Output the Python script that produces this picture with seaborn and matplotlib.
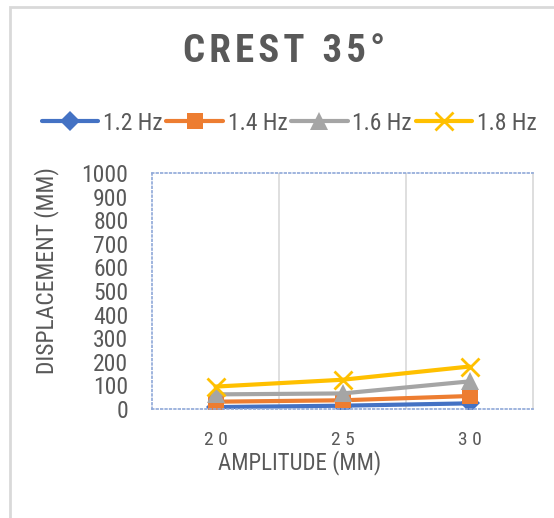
import numpy as np
import pandas as pd
import seaborn as sns
import matplotlib.pyplot as plt
from matplotlib.patches import Rectangle

# values
amplitudes = ["20", "25", "30"]
amp_ticklabels = ["2 0", "2 5", "3 0"]
freqs = ["1.2 Hz", "1.4 Hz", "1.6 Hz", "1.8 Hz"]
disp_12 = [8, 14, 24]
disp_14 = [31, 37, 55]
disp_16 = [62, 66, 117]
disp_18 = [95, 124, 180]

colors = ["#4472C4", "#ED7D31", "#A5A5A5", "#FFC000"]
markers = ["D", "s", "^", "x"]
msizes = [10, 12, 13, 13]
txt = "#595959"

series = [disp_12, disp_14, disp_16, disp_18]

sns.set_theme(style="white")
plt.rcParams["font.family"] = ["Roboto Condensed", "Liberation Sans Narrow",
                               "Roboto", "DejaVu Sans"]

fig = plt.figure(figsize=(5.54, 5.18), dpi=100)
ax = fig.add_axes([0.2744, 0.2104, 0.6877, 0.4556])

for name, vals, c, m, ms in zip(freqs, series, colors, markers, msizes):
  d = pd.DataFrame({"amplitude": amplitudes, "disp": vals})
  sns.lineplot(
    data       = d,
    x          = "amplitude",
    y          = "disp",
    color      = c,
    marker     = m,
    linewidth  = 3,
    markersize = ms,
    markeredgewidth = 2 if m == "x" else 0,
    markeredgecolor = c,
    label      = name,
    ax         = ax,
  )

ax.set_xlim(-0.5, 2.5)
ax.set_ylim(0, 1000)
ax.set_yticks(np.arange(0, 1001, 100))
ax.set_xticks(range(3))
ax.set_xticklabels(amp_ticklabels)
ax.tick_params(axis="both", colors=txt, length=0)
ax.tick_params(axis="y", labelsize=17, pad=17)
ax.tick_params(axis="x", labelsize=14, pad=16)
for xg in [0.5, 1.5]:
  ax.axvline(xg, color="#d9d9d9", lw=1.2, zorder=0)
for s in ["top", "left", "bottom"]:
  ax.spines[s].set_color("#8fa8d8")
  ax.spines[s].set_linestyle(":")
  ax.spines[s].set_linewidth(1.2)
ax.spines["right"].set_color("#d9d9d9")
ax.set_xlabel("")
ax.set_ylabel("")

handles, labels = ax.get_legend_handles_labels()
ax.get_legend().remove()
fig.legend(handles, labels, loc="center", bbox_to_anchor=(0.522, 1 - 123 / 518),
           ncol=4, frameon=False, fontsize=17, handlelength=2.4,
           columnspacing=0.15, handletextpad=0.2, labelcolor=txt,
           markerscale=1.0)

fig.text(0.512, 1 - 52 / 518, "C\u200aR\u200aE\u200aS\u200aT  3\u200a5\u200a°",
         ha="center", va="center", fontsize=28, fontweight="bold", color=txt)
fig.text(47 / 554, 1 - 271 / 518, "DISPLACEMENT (MM)", rotation=90,
         ha="center", va="center", fontsize=17, color=txt)
fig.text(300 / 554, 1 - 463 / 518, "AMPLITUDE (MM)", ha="center",
         va="center", fontsize=16.5, color=txt)

fig.patches.append(Rectangle((10 / 554, -0.1), 1.2, 1.1 - 7 / 518,
                             transform=fig.transFigure, fill=False,
                             edgecolor="#d9d9d9", lw=2))

fig.savefig("out.png", dpi=100)
